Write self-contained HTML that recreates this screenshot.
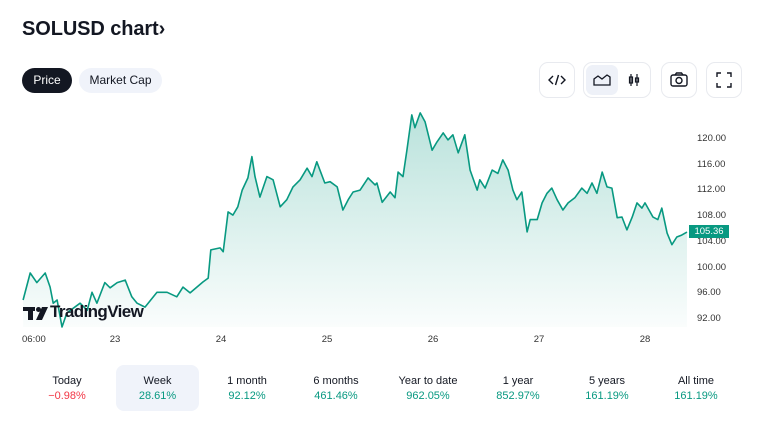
<!DOCTYPE html>
<html><head><meta charset="utf-8"><style>
body{margin:0;width:768px;height:432px;background:#fff;font-family:"Liberation Sans",sans-serif;overflow:hidden;position:relative;color:#131722}
.abs{position:absolute}
.title{left:22px;top:18px;font-size:20px;font-weight:bold;letter-spacing:-0.1px}
.pill{top:68px;height:25px;border-radius:13px;font-size:12px;line-height:25px;text-align:center}
.btn{top:62px;height:36px;border:1px solid #e8eaef;border-radius:9px;box-sizing:border-box;background:#fff}
.tab{top:365px;width:84px;height:46px;text-align:center;font-size:11px;border-radius:8px}
.tab .l{margin-top:10px;color:#131722}
.tab .v{margin-top:3px;color:#089981}
.yl{font-size:9.5px;color:#333;left:697px}
.xl{font-size:9.5px;color:#333;top:334px}
</style></head><body>
<div class="abs title">SOLUSD chart›</div>
<div class="abs pill" style="left:22px;width:50px;background:#131722;color:#fff">Price</div>
<div class="abs pill" style="left:79px;width:83px;background:#f0f3fa;color:#131722">Market Cap</div>

<div class="abs btn" style="left:539px;width:36px">
<svg width="34" height="34"><path d="M13 13l-4 4 4 4M21 13l4 4-4 4M18.5 12l-3 10" stroke="#131722" stroke-width="1.4" fill="none"/></svg></div>
<div class="abs btn" style="left:583px;width:68px">
<div class="abs" style="left:2px;top:2px;width:32px;height:30px;background:#eef1f8;border-radius:7px">
<svg width="32" height="30"><path d="M8 20V14l4-3 4 3 5-4 3 2V20z" stroke="#131722" stroke-width="1.3" fill="none"/></svg></div>
<div class="abs" style="left:36px;top:2px;width:30px;height:30px">
<svg width="30" height="30"><path d="M11 9v12M17 9v12" stroke="#131722" stroke-width="1.2"/><rect x="9.5" y="12" width="3" height="6" fill="none" stroke="#131722" stroke-width="1.2"/><rect x="15.5" y="13" width="3" height="4" fill="none" stroke="#131722" stroke-width="1.2"/></svg></div>
</div>
<div class="abs btn" style="left:661px;width:36px">
<svg width="34" height="34"><rect x="9" y="12" width="16" height="11" rx="2" fill="none" stroke="#131722" stroke-width="1.4"/><circle cx="17" cy="17.5" r="3" fill="none" stroke="#131722" stroke-width="1.4"/><path d="M13 12l1.5-2h5l1.5 2" stroke="#131722" stroke-width="1.4" fill="none"/></svg></div>
<div class="abs btn" style="left:706px;width:36px">
<svg width="34" height="34"><path d="M10 14v-4h4M20 10h4v4M24 20v4h-4M14 24h-4v-4" stroke="#131722" stroke-width="1.4" fill="none"/></svg></div>

<svg class="abs" style="left:0;top:0" width="768" height="432">
<defs><linearGradient id="g" x1="0" y1="0" x2="0" y2="1"><stop offset="0" stop-color="#089981" stop-opacity="0.28"/><stop offset="1" stop-color="#089981" stop-opacity="0.02"/></linearGradient></defs>
<g id="plot"></g>
<g fill="#131722">
<rect x="23" y="307" width="12" height="4"/><rect x="28" y="307" width="5" height="13"/>
<circle cx="38.5" cy="309.5" r="2.5"/><path d="M42 307h6l-6 13h-6z"/>
</g>
</svg>
<div class="abs" style="left:50px;top:302px;font-size:17px;font-weight:bold;color:#131722;letter-spacing:-0.6px">TradingView</div>
<div id="labels"></div>

<div class="abs tab" style="left:25px"><div class="l">Today</div><div class="v" style="color:#f23645">−0.98%</div></div>
<div class="abs tab" style="left:116px;width:83px;background:#f0f3fa"><div class="l">Week</div><div class="v">28.61%</div></div>
<div class="abs tab" style="left:205px"><div class="l">1 month</div><div class="v">92.12%</div></div>
<div class="abs tab" style="left:294px"><div class="l">6 months</div><div class="v">461.46%</div></div>
<div class="abs tab" style="left:386px"><div class="l">Year to date</div><div class="v">962.05%</div></div>
<div class="abs tab" style="left:476px"><div class="l">1 year</div><div class="v">852.97%</div></div>
<div class="abs tab" style="left:565px"><div class="l">5 years</div><div class="v">161.19%</div></div>
<div class="abs tab" style="left:654px"><div class="l">All time</div><div class="v">161.19%</div></div>

<script>
const hours=[3.2,4.8,6.3,8.2,9.3,10.0,10.9,12.0,13.1,16.1,17.7,18.8,19.9,21.7,22.9,24.5,26.3,27.8,29.0,30.8,33.5,35.8,38.0,39.4,41.0,43.9,45.1,45.7,47.8,48.5,49.6,50.7,51.8,52.8,54.1,55.0,55.7,56.8,58.4,59.8,61.4,62.9,64.3,65.9,67.5,68.6,69.7,71.5,72.7,74.3,75.6,76.8,77.9,79.5,81.3,82.9,83.3,84.5,86.3,87.4,88.1,89.2,90.1,91.2,91.9,93.1,94.2,95.8,96.9,98.3,99.4,100.5,101.7,103.2,104.4,106.0,106.6,107.8,109.4,110.7,111.8,113.0,114.1,115.0,116.1,117.3,118.0,119.6,120.7,121.8,122.9,124.1,125.4,126.6,128.1,129.7,130.9,132.0,133.1,134.3,135.4,136.5,137.7,138.8,139.9,141.1,142.2,143.3,144.0,145.8,146.9,147.8,149.0,150.1,151.2,152.3,153.5];
const prices=[94.8,99.0,97.5,99.0,96.8,94.3,94.8,90.6,92.8,94.3,93.2,96.0,94.3,97.5,96.7,97.5,97.9,95.3,94.3,93.7,96.0,96.0,95.3,96.8,95.9,97.6,98.2,102.6,102.9,102.3,108.5,108.0,109.3,111.9,113.8,117.1,114.0,110.8,114.0,113.5,109.3,110.4,112.4,113.5,115.3,114.0,116.3,113.0,113.2,112.4,108.8,110.4,111.6,111.9,113.8,112.7,113.0,110.0,111.6,110.7,114.7,114.0,118.1,123.6,121.6,123.9,122.5,118.1,119.4,120.8,119.7,120.5,117.7,120.5,115.0,111.9,113.5,112.2,115.0,114.5,116.6,115.0,111.9,110.4,111.6,105.4,107.3,107.3,109.9,111.4,112.2,110.4,108.8,109.9,110.7,112.2,111.4,113.0,111.4,114.7,112.4,112.2,107.6,107.7,105.7,107.7,109.9,109.1,109.9,107.7,107.3,109.1,105.2,103.4,104.6,104.9,105.36];
const yTicks=[92,96,100,104,108,112,116,120];
const xTickHours=[6,24,48,72,96,120,144];
const xTickLabels=["06:00","23","24","25","26","27","28"];
const lastPrice=105.36;
const X=h=>115+(h-24)*106/24;
const Y=v=>138+(120-v)*180/28;
const NS="http://www.w3.org/2000/svg";
const g=document.getElementById('plot');
const pts=hours.map((h,i)=>X(h).toFixed(1)+','+Y(prices[i]).toFixed(1));
const base=327;
const area=document.createElementNS(NS,'path');
area.setAttribute('d','M'+X(hours[0])+','+base+' L'+pts.join(' L')+' L'+X(hours[hours.length-1])+','+base+'Z');
area.setAttribute('fill','url(#g)');


g.appendChild(area);
const line=document.createElementNS(NS,'polyline');
line.setAttribute('points',pts.join(' '));
line.setAttribute('fill','none');line.setAttribute('stroke','#089981');line.setAttribute('stroke-width','1.6');line.setAttribute('stroke-linejoin','round');


g.appendChild(line);
const L=document.getElementById('labels');
yTicks.forEach(v=>{const d=document.createElement('div');d.className='abs yl';d.style.top=(Y(v)-5)+'px';d.textContent=v.toFixed(2);


L.appendChild(d);});
xTickHours.forEach((h,i)=>{const d=document.createElement('div');d.className='abs xl';d.style.left=(X(h)-20)+'px';d.style.width='40px';d.style.textAlign=i==0?'left':'center';if(i==0)d.style.left='22px';d.textContent=xTickLabels[i];


L.appendChild(d);});
const pl=document.createElement('div');pl.className='abs';
pl.style.cssText='left:689px;width:40px;height:13px;background:#089981;color:#fff;font-size:9.5px;text-align:center;line-height:13px;top:'+(Y(lastPrice)-7)+'px';
pl.textContent=lastPrice.toFixed(2);


L.appendChild(pl);
</script>
</body></html>
